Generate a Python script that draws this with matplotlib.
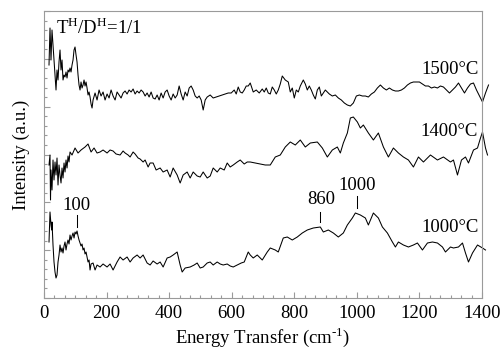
import matplotlib
matplotlib.use("Agg")
import matplotlib.pyplot as plt
from matplotlib.ticker import MultipleLocator, AutoMinorLocator, NullFormatter

plt.rcParams['font.family'] = ['Liberation Serif', 'DejaVu Serif']
plt.rcParams['mathtext.fontset'] = 'custom'
plt.rcParams['mathtext.rm'] = 'Liberation Serif'

# ---- data (energy transfer in cm-1, intensity in arbitrary units) ----
x_1500 = [16, 19.2, 22.4, 25.6, 28.8, 32, 35.2, 38.4, 41.6, 44.8, 48, 51.2, 54.4, 57.6, 60.8, 64, 67.2, 70.4,
          73.6, 76.8, 80, 83.2, 86.4, 89.6, 92.8, 96, 99.2, 102.4, 105.6, 108.8, 112, 115.2, 118.4, 121.6,
          124.8, 128, 131.2, 134.4, 137.6, 140.8, 144, 147.2, 150.4, 153.6, 156.8, 163.2, 169.6, 176, 182.4,
          188.8, 195.2, 201.6, 208, 214.4, 220.8, 227.2, 233.6, 240, 246.4, 252.8, 259.2, 265.6, 272, 278.4,
          284.8, 291.2, 297.6, 304, 310.4, 316.8, 323.2, 329.6, 336, 342.4, 348.8, 355.2, 361.6, 368, 374.4,
          380.8, 387.2, 393.6, 400, 406.4, 412.8, 419.2, 425.6, 432, 438.4, 444.8, 451.2, 457.6, 464, 470.4,
          476.8, 483.2, 489.6, 496, 502.4, 508.8, 515.2, 521.6, 531.2, 540.8, 550.4, 560, 569.6, 579.2, 588.8,
          598.4, 608, 614.4, 620.8, 627.2, 633.6, 640, 646.4, 652.8, 659.2, 668.8, 678.4, 688, 697.6, 704,
          710.4, 716.8, 723.2, 729.6, 736, 742.4, 748.8, 755.2, 761.6, 771.2, 780.8, 787.2, 793.6, 800, 806.4,
          812.8, 819.2, 828.8, 835.2, 841.6, 848, 854.4, 860.8, 867.2, 873.6, 880, 886.4, 892.8, 899.2, 905.6,
          912, 921.6, 931.2, 940.8, 950.4, 960, 969.6, 979.2, 988.8, 998.4, 1008, 1017.6, 1027.2, 1036.8,
          1046.4, 1056, 1065.6, 1075.2, 1084.8, 1094.4, 1104, 1113.6, 1123.2, 1132.8, 1142.4, 1152, 1161.6,
          1171.2, 1180.8, 1190.4, 1200, 1209.6, 1219.2, 1228.8, 1238.4, 1248, 1257.6, 1267.2, 1276.8, 1286.4,
          1296, 1305.6, 1315.2, 1324.8, 1334.4, 1344, 1353.6, 1363.2, 1372.8, 1382.4, 1392, 1401.6, 1411.2,
          1420.8]
y_1500 = [233, 270, 238, 268, 253, 238, 223, 208, 228, 218, 236, 248, 228, 238, 218, 223, 221, 226,
          220, 228, 226, 230, 226, 233, 238, 248, 251, 243, 236, 223, 213, 208, 216, 210,
          213, 218, 212, 216, 210, 203, 206, 201, 194, 190, 198, 205, 198, 208, 202,
          206, 198, 204, 200, 208, 202, 198, 206, 203, 200, 205, 207, 204, 208, 206,
          209, 204, 207, 205, 208, 206, 202, 205, 201, 206, 200, 199, 203, 198, 205,
          200, 206, 208, 202, 198, 204, 200, 203, 212, 204, 198, 206, 202, 210, 212,
          208, 202, 200, 202, 198, 188, 198, 201, 203, 200, 201, 202, 203, 204, 205,
          205, 208, 204, 211, 206, 205, 208, 212, 212, 215, 206, 208, 205, 209, 206,
          210, 205, 204, 211, 208, 204, 208, 214, 222, 218, 216, 206, 210, 200, 208,
          206, 212, 218, 214, 208, 212, 208, 203, 199, 208, 211, 202, 205, 208, 206,
          204, 202, 203, 200, 198, 195, 193, 192, 195, 202, 203, 202, 202, 201,
          204, 206, 210, 213, 210, 208, 210, 208, 207, 207, 208, 210, 213,
          215, 216, 216, 216, 214, 212, 212, 210, 211, 210, 212, 211, 208,
          205, 208, 211, 215, 210, 205, 210, 214, 215, 208, 202, 196, 205,
          213]

x_1400 = [16, 19.2, 20.8, 22.4, 25.6, 28.8, 32, 35.2, 38.4, 41.6, 44.8, 48, 51.2, 54.4, 57.6, 60.8, 64,
          67.2, 70.4, 73.6, 76.8, 80, 83.2, 89.6, 99.2, 108.8, 118.4, 131.2, 140.8, 150.4, 160, 169.6, 179.2,
          188.8, 201.6, 211.2, 220.8, 230.4, 243.2, 252.8, 259.2, 268.8, 275.2, 284.8, 291.2, 300.8, 307.2,
          316.8, 323.2, 332.8, 339.2, 348.8, 358.4, 371.2, 380.8, 393.6, 403.2, 412.8, 425.6, 435.2, 444.8,
          457.6, 467.2, 476.8, 489.6, 499.2, 508.8, 521.6, 531.2, 540.8, 553.6, 563.2, 576, 585.6, 595.2,
          604.8, 617.6, 627.2, 640, 649.6, 659.2, 675.2, 691.2, 707.2, 723.2, 739.2, 755.2, 771.2, 787.2,
          803.2, 819.2, 835.2, 851.2, 873.6, 889.6, 905.6, 921.6, 937.6, 947.2, 956.8, 969.6, 979.2, 988.8,
          1001.6, 1011.2, 1020.8, 1036.8, 1052.8, 1068.8, 1084.8, 1100.8, 1116.8, 1132.8, 1148.8, 1164.8,
          1180.8, 1196.8, 1212.8, 1235.2, 1257.6, 1276.8, 1299.2, 1308.8, 1321.6, 1334.4, 1347.2, 1356.8,
          1372.8, 1385.6, 1395.2, 1401.6, 1411.2, 1417.6]
y_1400 = [133, 143, 98, 128, 108, 138, 118, 136, 123, 140, 113, 133, 123, 115, 130, 120, 135,
          126, 138, 130, 142, 136, 146, 143, 150, 145, 148, 151, 154, 146, 150, 145, 146,
          148, 145, 148, 147, 144, 143, 147, 145, 143, 141, 146, 144, 140, 139,
          136, 138, 131, 135, 135, 128, 130, 126, 128, 121, 130, 123, 115, 123,
          126, 120, 126, 122, 121, 126, 120, 122, 130, 126, 130, 128, 135, 131,
          133, 136, 138, 134, 136, 136, 135, 134, 133, 133, 141, 143, 151, 156,
          153, 158, 151, 155, 156, 150, 141, 148, 151, 145, 155, 165, 180, 181,
          176, 170, 173, 165, 158, 165, 151, 141, 150, 145, 141, 138,
          131, 141, 136, 143, 138, 141, 136, 138, 123, 138, 141, 135,
          148, 150, 160, 166, 150, 143]

x_1000 = [16, 19.2, 22.4, 24.6, 25.6, 28.8, 32, 35.2, 38.4, 41.6, 44.8, 48, 51.2, 54.4, 57.6, 60.8, 64,
          67.2, 70.4, 73.6, 76.8, 80, 83.2, 86.4, 89.6, 92.8, 96, 99.2, 102.4, 105.6, 108.8, 112, 115.2,
          118.4, 121.6, 124.8, 128, 131.2, 134.4, 137.6, 140.8, 144, 147.2, 150.4, 156.8, 163.2, 169.6,
          179.2, 188.8, 201.6, 211.2, 220.8, 233.6, 243.2, 252.8, 265.6, 275.2, 284.8, 297.6, 307.2, 316.8,
          329.6, 339.2, 348.8, 361.6, 371.2, 380.8, 393.6, 403.2, 412.8, 425.6, 435.2, 441.6, 451.2, 467.2,
          480, 489.6, 499.2, 508.8, 521.6, 531.2, 540.8, 553.6, 563.2, 572.8, 585.6, 595.2, 604.8, 617.6,
          630.4, 640, 652.8, 659.2, 668.8, 681.6, 697.6, 713.6, 723.2, 739.2, 748.8, 764.8, 777.6, 793.6,
          809.6, 825.6, 841.6, 860.8, 883.2, 892.8, 908.8, 924.8, 940.8, 956.8, 969.6, 985.6, 995.2, 1011.2,
          1027.2, 1036.8, 1052.8, 1068.8, 1081.6, 1097.6, 1113.6, 1123.2, 1132.8, 1148.8, 1164.8, 1180.8,
          1193.6, 1209.6, 1225.6, 1241.6, 1257.6, 1273.6, 1283.2, 1299.2, 1308.8, 1324.8, 1337.6, 1347.2,
          1356.8, 1369.6, 1385.6, 1401.6, 1411.2]
y_1000 = [56, 86, 73, 68, 76, 53, 36, 26, 20, 23, 36, 43, 53, 46, 50, 45, 52,
          56, 48, 54, 58, 54, 63, 58, 62, 65, 60, 66, 64, 67, 62, 58, 55,
          52, 54, 48, 50, 44, 46, 41, 36, 38, 28, 34, 35, 28, 33,
          31, 34, 31, 34, 28, 36, 41, 38, 41, 36, 40, 43, 40, 43,
          35, 33, 37, 34, 36, 31, 40, 41, 43, 46, 33, 26, 30, 31,
          33, 35, 30, 31, 35, 36, 33, 36, 34, 33, 34, 32, 31, 33,
          35, 36, 46, 43, 40, 43, 38, 46, 50, 48, 46, 60, 61, 58,
          61, 65, 68, 70, 71, 66, 68, 65, 61, 65, 73, 80, 85, 83,
          80, 73, 85, 80, 71, 65, 56, 51, 56, 53, 51, 53,
          55, 48, 55, 56, 55, 51, 46, 51, 50, 51, 55, 45,
          36, 45, 53, 50, 48]

series_labels = ["1500\u00b0C", "1400\u00b0C", "1000\u00b0C"]
peak_labels = ["100", "860", "1000"]
peak_pos = [105, 883, 1000]
xtick_values = [0, 200, 400, 600, 800, 1000, 1200, 1400]

# ---- figure ----
fig = plt.figure(figsize=(5.03, 3.48), dpi=100)
ax = fig.add_axes([44/503, 1-298/348, (482-44)/503, (298-11)/348])

for xs, ys in [(x_1500, y_1500), (x_1400, y_1400), (x_1000, y_1000)]:
    ax.plot(xs, ys, color='black', lw=0.75, clip_on=False)

ax.set_xlim(0, 1400)
ax.set_ylim(0, 287)
ax.set_xticks(xtick_values)
ax.xaxis.set_minor_locator(AutoMinorLocator(6))
ax.yaxis.set_major_locator(MultipleLocator(287/6))
ax.yaxis.set_minor_locator(MultipleLocator(287/30))
ax.yaxis.set_major_formatter(NullFormatter())

spine_col = '#9a9a9a'
for s in ax.spines.values():
    s.set_color(spine_col)
    s.set_linewidth(0.8)
ax.tick_params(which='both', direction='in', top=False, right=False, color=spine_col, width=0.8,
               labelsize=13.5, pad=5)
ax.tick_params(which='major', length=4.5)
ax.tick_params(which='minor', length=2.5)

ax.set_xlabel("Energy Transfer (cm$^{\\text{-1}}$)", fontsize=13.5, labelpad=2)
ax.set_ylabel("Intensity (a.u.)", fontsize=13.5, labelpad=5)

ax.text(38, 270, "T$^{\\mathrm{H}}$/D$^{\\mathrm{H}}$=1/1", fontsize=13.5, ha='left', va='center')
ax.text(1389, 229, series_labels[0], fontsize=13.5, ha='right', va='center')
ax.text(1386, 166, series_labels[1], fontsize=13.5, ha='right', va='center')
ax.text(1389, 71, series_labels[2], fontsize=13.5, ha='right', va='center')

peak_text_y = [92, 98, 113]
peak_line = [(71, 83), (76, 86), (90, 102)]
for lab, px, ty, (y0, y1) in zip(peak_labels, peak_pos, peak_text_y, peak_line):
    ax.text(px + (3 if lab == "860" else 0), ty, lab, fontsize=13.5, ha='center', va='center')
    ax.plot([px, px], [y0, y1], color='black', lw=0.75)

fig.savefig("out.png", dpi=100)
